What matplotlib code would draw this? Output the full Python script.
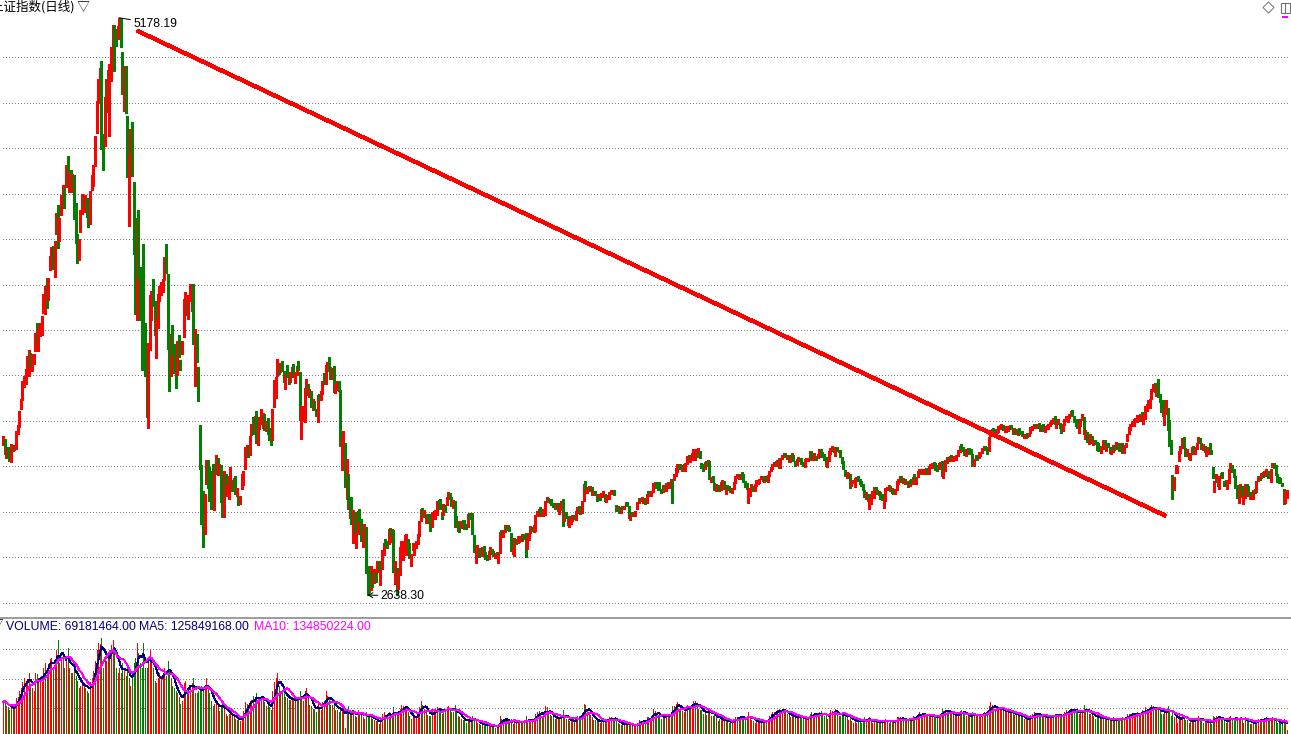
import numpy as np
import pandas as pd
import matplotlib
matplotlib.use("Agg")
import matplotlib.pyplot as plt
from matplotlib.patches import Polygon, Rectangle

# ---------------- data: Shanghai Composite daily bars (2015-03-02 .. 2018-06-01) ----------------
hi15 = [3336,3324,3286,3288,3263,3303,3297,3300,3359,3387,3449,3503,3578,3600,3632,3688,3715,3703,3701,3697,3790,3835,
        3818,3835,3864,3961,4000,4032,4035,4129,4169,4176,4195,4318,4356,4297,4400,4444,4431,4529,4572,4499,4507,
        4489,4488,4365,4225,4207,4333,4402,4391,4397,4387,4308,4418,4485,4530,4658,4814,4911,4958,4986,4669,
        4829,4911,4947,4973,5051,5147,5147,5131,5144,5178.19,5176,5029,4968,4966,4744,4577,4691,4720,4456,4297,4287,
        4334,4080,3975,4184,3836,3627,3748,3959,3976,4030,3930,3851,3962,4000,4017,4028,4125,4184,4051,3757,3789,3828,3742,
        3675,3757,3782,3674,3756,3943,3970,3941,3957,4006,3994,4006,3811,3789,3640,3388,3211,3096,3085,3233,3231,
        3201,3183,3217,3174,3256,3243,3214,3211,3107,3182,3169,3123,3161,3203,3145,3152,3162,3110,3075,3073,
        3172,3184,3288,3300,3292,3338,3393,3421,3425,3449,3371,3422,3457,3440,3436,3402,3416,
        3373,3346,3459,3585,3597,3678,3655,3661,3666,3624,3610,3650,3617,3619,3640,3654,3618,3648,3668,3621,3470,
        3470,3548,3591,3568,3546,3534,3500,3494,3457,3520,3524,3535,3581,3615,3651,3662,3684,3640,3638,3645,3565,3579,3580]
lo15 = [3298,3260,3242,3240,3228,3223,3274,3276,3281,3345,3377,3455,3496,3555,3567,3615,3600,3643,3625,3654,3710,3734,
        3712,3778,3781,3879,3874,3900,3938,4068,4080,4075,4038,4226,4165,4198,4312,4370,4340,4432,4432,4410,4437,
        4410,4293,4189,4099,4111,4237,4317,4346,4325,4303,4257,4273,4419,4438,4527,4671,4804,4863,4600,4510,
        4615,4797,4762,4656,4898,5031,4942,5056,5083,5099,5048,4842,4767,4758,4476,4264,4552,4483,4139,3875,3848,
        4033,3847,3629,3653,3602,3421,3373,3717,3847,3912,3781,3682,3815,3932,3958,3970,4023,4056,3720,3537,3602,3701,3615,
        3549,3608,3686,3629,3701,3772,3891,3872,3855,3933,3889,3743,3558,3663,3491,3191,2952,2851,2906,3126,3110,
        3053,3019,3066,3011,3170,3165,3168,3049,2983,2982,3072,3073,3063,3151,3096,3106,3084,3072,3033,3039,
        3104,3124,3194,3261,3247,3254,3344,3349,3360,3306,3300,3370,3392,3373,3363,3360,3349,
        3321,3298,3320,3467,3507,3601,3612,3621,3623,3577,3544,3597,3567,3574,3599,3600,3572,3607,3628,3410,3327,
        3402,3398,3518,3517,3509,3467,3454,3451,3424,3400,3495,3496,3525,3566,3567,3628,3626,3590,3590,3533,3527,3541,3538]
col15 = ("rgrggrg" "rrrrrrrrrr" "grrrg"
         "rrrrrgrrrgrrgrrrgrgrg"
         "rgggrrrgrgg" "rrrrrrr" "gg"
         "rrgrrrggrrggrggrrgggr"
         "ggggggrrrggrrrrrrgggrgg"
         "grggrrrgrrrgrgggggrrg"
         "gggrrgrggrgrrrgrgrgr"
         "rrrrgrrgrgrrrrgrg"
         "ggrrrrgrggrggrrgrrggr"
         "rrrgrgrggrgrrgrrggrgrrg")
vol15 = [290,310,260,250,230,270,250,240,320,330,380,400,450,480,430,470,520,430,400,380,520,510,
         480,460,450,560,600,560,590,630,640,560,600,700,780,600,650,680,560,640,720,560,520,
         520,600,500,460,400,420,470,420,400,380,360,450,480,540,620,700,760,750,800,560,
         640,620,660,700,740,780,700,560,520,560,520,600,560,500,560,480,420,500,600,640,760,
         680,600,560,760,560,560,620,700,620,560,460,440,480,520,500,500,560,500,620,540,480,420,400,
         380,360,330,280,300,440,460,400,380,400,440,480,360,360,380,400,420,380,420,480,400,
         360,300,260,280,300,260,220,260,280,260,200,180,200,210,180,170,160,150,150,140,
         180,220,290,280,260,300,310,340,300,360,300,330,340,320,290,260,270,
         250,230,380,450,480,520,420,380,370,360,330,320,310,310,330,310,300,300,330,380,330,
         300,380,400,320,270,260,240,240,210,300,240,230,290,300,380,340,320,270,270,300,230,230,210]

hi16 = [3539,3328,3362,3309,3236,3172,3042,3069,3011,3005,2917,3009,3019,2974,2927,2952,2938,2768,2737,2764,
        2741,2751,2740,2788,2787,2747,2837,2868,2886,2875,2928,2934,2929,2926,2789,2759,
        2744,2850,2874,2876,2901,2905,2883,2867,2820,2869,2865,2877,2905,2962,3019,3021,3013,2995,2982,2997,2964,3002,3010,
        3012,3054,3055,3062,3002,3039,3033,3069,3090,3089,3069,3056,3052,2987,2964,2960,2966,2970,2968,2952,
        2993,2998,3000,2998,2904,2847,2860,2838,2846,2851,2853,2829,2816,2830,2849,2842,2831,2824,2829,2824,2917,
        2926,2926,2945,2945,2946,2939,2910,2846,2891,2887,2896,2891,2899,2906,2908,2911,2896,2913,2941,2939,
        2945,2989,3007,3018,3025,3019,3016,3050,3071,3064,3060,3059,3045,3040,3042,3043,3026,3051,3059,3000,3003,
        2985,2975,2984,2990,2992,3006,3026,3030,3020,3051,3128,3140,3115,3117,3117,3112,3095,3094,3083,3083,3073,3087,3095,
        3085,3070,3079,3091,3101,3100,3101,3036,3031,3025,3027,3031,3029,3049,3048,3029,2998,3002,3003,3006,
        3048,3067,3065,3070,3066,3067,3085,3097,3092,3097,3131,3136,3135,3118,3134,3105,
        3124,3118,3132,3137,3134,3149,3151,3173,3198,3213,3212,3213,3211,3215,3219,3249,3256,3245,3262,3282,3283,3271,
        3286,3270,3219,3213,3223,3230,3233,3230,3158,3163,3130,3126,3124,3118,3137,3144,3139,3123,3124,3117,3105,3109]
lo16 = [3295,3189,3288,3115,3059,3016,2979,2949,2867,2898,2845,2906,2962,2878,2851,2915,2737,2638.30,2653,2662,
        2672,2690,2695,2739,2755,2682,2751,2816,2858,2845,2863,2897,2871,2741,2689,2639,
        2667,2727,2831,2793,2857,2815,2843,2801,2765,2835,2815,2846,2861,2898,2965,2987,2982,2955,2954,2957,2919,2936,2991,
        2972,2989,3023,3016,2971,2991,3003,3036,3063,3066,3032,3023,2939,2947,2918,2915,2932,2949,2930,2930,
        2938,2973,2982,2907,2827,2781,2825,2804,2818,2809,2830,2795,2791,2797,2820,2819,2811,2803,2810,2781,2822,
        2905,2893,2916,2925,2929,2919,2832,2820,2812,2864,2866,2870,2874,2876,2884,2807,2841,2882,2913,2921,
        2917,2918,2984,2988,3000,2985,2988,2990,3047,3046,3042,3034,3025,3019,3016,3008,2996,3012,2942,2966,2976,
        2948,2936,2950,2965,2972,2968,2998,3012,2993,3000,3054,3102,3086,3096,3097,3079,3077,3078,3051,3064,3058,3070,3071,
        3054,3046,3062,3060,3085,3083,3078,3009,3011,2998,2999,3016,3015,3031,3030,2979,2969,2986,2985,2988,
        3019,3043,3051,3051,3044,3040,3042,3077,3074,3074,3091,3117,3111,3102,3103,3086,
        3090,3100,3094,3112,3110,3129,3044,3143,3162,3178,3194,3193,3186,3189,3186,3217,3232,3222,3233,3257,3233,3245,
        3250,3241,3197,3184,3194,3206,3208,3150,3136,3137,3101,3098,3110,3095,3102,3130,3106,3084,3109,3099,3090,3086]
col16 = ("grrgrgrgrgrrggrrgggr"
         "grgrgrrrggrgrgrg"
         "rrrrrr" "gg" "rrrrrrr" "grgrggrr"
         "rrgggrgrrggrggrgrggg"
         "rgrggrrggrgggrrggrgrr"
         "grrgrggrrgrrgrggrrrg"
         "rrrrggrrrgrgggrgrrgrg"
         "grrrgrrggrrgrgrgrggrgrr"
         "grrrrrggrgrgrrggrgrr"
         "rrgrrgrgrrrrgggg"
         "rgrgrrgrrrggrgrrgrrrrg"
         "rgggrgrgrggrggrrgrgggr")
vol16 = [240,250,240,90,230,260,200,200,220,180,170,230,200,200,170,160,210,190,170,180,
         160,150,140,150,120,150,200,210,190,160,210,200,180,250,200,190,
         190,240,270,260,250,250,210,180,160,180,170,170,210,250,300,270,240,230,190,180,180,220,230,
         220,250,240,230,200,230,230,250,260,230,210,210,270,220,180,170,160,150,150,130,
         150,150,140,180,160,140,130,120,110,120,110,110,100,110,110,100,100,90,100,100,180,
         160,150,160,140,140,130,160,120,150,130,130,130,130,140,130,180,140,140,150,140,
         150,200,210,220,200,180,190,260,250,200,190,180,170,160,170,160,160,190,230,170,160,
         160,140,140,140,140,160,180,180,170,200,280,270,220,200,190,170,150,150,140,140,130,140,150,
         150,140,150,170,170,160,150,160,130,120,110,110,110,130,120,130,110,100,100,100,
         130,150,140,140,130,140,170,170,160,170,240,220,200,180,180,160,
         190,170,200,190,180,200,260,260,280,290,240,230,220,210,250,270,260,250,260,300,300,260,
         240,230,230,200,210,190,230,240,180,180,210,170,140,160,170,150,140,150,140,130,130,130]

hi17 = [3136,3160,3172,3172,3173,3179,3172,3142,3132,3108,3110,3127,3117,3126,3145,3146,3150,3163,
        3163,3158,3160,3167,3185,3202,3217,3225,3230,3232,3241,3240,3256,3262,3265,3255,3253,3242,
        3262,3254,3228,3236,3246,3243,3240,3222,3238,3242,3243,3270,3271,3251,3262,3250,3258,3279,3282,3269,3261,3244,3229,
        3270,3285,3295,3290,3289,3288,3278,3276,3245,3226,3188,3180,3177,3169,3138,3146,3154,3158,
        3160,3150,3138,3125,3101,3090,3081,3064,3083,3096,3113,3114,3099,3095,3093,3085,3067,3110,3113,3124,
        3119,3109,3106,3104,3141,3151,3163,3160,3155,3151,3141,3140,3145,3147,3157,3172,3158,3186,3192,3188,3191,3193,
        3197,3198,3208,3213,3220,3225,3220,3212,3221,3224,3227,3188,3231,3245,3243,3252,3255,3252,3251,3256,3276,
        3293,3305,3290,3280,3280,3286,3284,3283,3258,3238,3253,3253,3269,3269,3287,3293,3292,3289,3332,3366,3371,3374,3369,
        3368,3381,3387,3391,3388,3375,3380,3380,3385,3388,3371,3372,3368,3367,3372,3362,3358,3347,3347,3350,3353,
        3377,3384,3391,3393,3391,3397,3385,3386,3389,3380,3386,3390,3398,3410,3419,3428,3395,
        3412,3396,3386,3389,3415,3425,3428,3436,3449,3451,3425,3410,3412,3395,3411,3433,3422,3366,3356,3334,3346,3338,
        3322,3322,3310,3307,3293,3290,3322,3320,3305,3307,3289,3276,3298,3294,3311,3301,3306,3306,3308,3297,3308]
lo17 = [3106,3130,3153,3150,3147,3159,3134,3114,3105,3044,3076,3102,3096,3095,3120,3129,3131,3147,
        3138,3134,3141,3134,3160,3182,3194,3208,3210,3205,3199,3196,3235,3246,3244,3236,3224,3225,
        3240,3229,3204,3212,3230,3229,3214,3207,3201,3228,3226,3241,3234,3232,3245,3234,3240,3246,3260,3247,3232,3204,3203,
        3230,3261,3272,3267,3249,3271,3266,3245,3221,3192,3161,3152,3161,3111,3119,3132,3112,3142,
        3141,3127,3118,3100,3068,3063,3051,3016,3041,3075,3065,3098,3082,3080,3061,3057,3022,3054,3099,3102,
        3096,3086,3084,3084,3101,3126,3140,3137,3131,3129,3127,3113,3118,3132,3129,3145,3128,3158,3170,3171,3172,3171,
        3173,3177,3170,3198,3198,3206,3188,3185,3193,3205,3163,3153,3184,3220,3228,3229,3240,3226,3235,3233,3249,
        3269,3282,3270,3253,3252,3270,3259,3257,3204,3204,3234,3232,3242,3248,3262,3276,3275,3261,3270,3337,3351,3355,3347,
        3351,3355,3369,3369,3363,3354,3357,3361,3367,3368,3347,3351,3348,3341,3352,3346,3338,3331,3331,3335,3338,
        3352,3365,3372,3380,3375,3375,3360,3362,3365,3356,3370,3367,3381,3389,3395,3390,3373,
        3389,3374,3353,3362,3385,3406,3400,3417,3426,3424,3398,3381,3374,3353,3382,3410,3348,3327,3312,3301,3315,3306,
        3298,3302,3278,3274,3270,3264,3282,3280,3272,3289,3263,3259,3268,3278,3283,3283,3274,3273,3264,3263,3288]
col17 = ("rrrgrggggrrrgrrrrr"
         "grgrrrrrgrgrrrgrgr"
         "rggrrgggrrrrgrrgrrggggr"
         "rrrgrgrggggrrgrrrr"
         "gggggrgrrrrggrggrrrr"
         "grgrrrrgrgrgrgrgrrrgrr"
         "rgrrrgggrrgrrrgrgrrrr"
         "rgggrrgggrrgrrrrggrrrgg"
         "rrrrgrrrrggrgrgggrrgr"
         "rrrgrggrgrrrrrrgr"
         "rggrrrrrrggggrrrgrgrrg"
         "rggggrrgrggrrgrggrgrr")
vol17 = [160,170,170,170,180,170,170,150,160,210,180,150,140,130,140,140,130,130,
         130,140,150,160,180,200,210,210,200,230,240,220,230,230,210,200,190,170,
         190,180,170,170,180,170,170,160,160,160,150,200,210,190,200,190,180,210,220,190,180,190,160,
         200,230,220,200,240,200,180,180,190,190,200,170,150,200,140,130,150,130,
         150,140,130,150,170,150,140,170,140,130,150,140,130,130,140,130,150,160,140,130,
         150,140,130,130,170,170,170,150,160,150,140,140,160,150,180,170,180,200,210,190,190,190,
         190,180,190,180,170,180,180,170,190,190,240,220,230,230,200,210,200,190,180,180,200,
         220,230,210,200,180,180,180,180,210,180,180,180,190,190,200,210,200,200,260,290,270,240,230,
         240,240,240,230,220,210,220,220,210,210,200,190,190,190,190,180,170,160,160,150,150,
         190,200,210,200,190,190,190,180,180,170,170,170,170,180,190,200,180,
         190,180,180,180,210,230,220,220,240,240,220,210,220,200,210,210,270,230,220,200,200,200,
         180,160,170,180,170,160,170,160,150,150,150,150,170,150,150,150,160,160,170,160,150]

hi18 = [3349,3379,3392,3402,3412,3417,3430,3427,3435,3442,3437,3468,3480,3497,3503,3547,3565,3570,3562,3587,3523,3495,
        3495,3463,3496,3463,3410,3319,3168,3158,3210,3206,3270,3293,3329,3335,3287,
        3283,3265,3262,3290,3296,3289,3308,3334,3328,3306,3303,3296,3280,3291,3307,3276,3202,3138,3171,3153,3161,3175,
        3180,3141,3146,3145,3191,3220,3210,3193,3164,3122,3099,3127,3118,3072,3129,3129,3118,3086,
        3091,3101,3104,3138,3162,3163,3175,3181,3182,3192,3183,3172,3193,3219,3219,3209,3171,3157,3153,3131,3105,3098,
        3102]
lo18 = [3314,3345,3365,3380,3384,3403,3398,3405,3424,3402,3390,3414,3450,3466,3461,3503,3534,3532,3514,3510,3488,3442,
        3424,3388,3435,3363,3295,3258,3062,3101,3174,3176,3227,3262,3285,3290,3252,
        3250,3238,3233,3260,3269,3260,3279,3311,3308,3282,3275,3268,3252,3257,3276,3259,3152,3091,3134,3118,3104,3154,
        3154,3117,3123,3104,3133,3190,3178,3157,3108,3066,3042,3091,3068,3041,3066,3112,3073,3062,
        3073,3063,3088,3091,3138,3143,3152,3158,3166,3160,3153,3153,3137,3200,3198,3168,3137,3131,3134,3118,3041,3043,
        3066]
col18 = ("rrrrrrrrrgrrrrrrrgrggg"
         "grrggggrrrrrrgg"
         "rgrrgrrrggrgrrgggrrgrr"
         "gggrrrggggrrgrrggr"
         "grgrrgrgrrggrrgggggggr"
         "r")
vol18 = [200,200,200,190,200,190,210,190,190,230,210,250,230,230,250,270,260,230,230,250,230,200,
         200,210,220,260,230,180,220,170,170,130,160,170,200,180,150,
         150,130,140,160,150,150,160,180,160,140,130,140,140,140,130,120,180,170,180,170,180,150,
         150,140,130,150,170,180,160,140,160,170,160,170,150,130,170,150,140,120,
         120,130,120,150,160,150,160,150,150,170,160,150,160,170,150,140,130,129.3,130,120,160,150,
         69.181464]

header_text = "上证指数(日线) ▽"
vol_label = ["VOLUME: 69181464.00", "MA5: 125849168.00", "MA10: 134850224.00"]
price_grid = [2600, 2800, 3000, 3200, 3400, 3600, 3800, 4000, 4200, 4400, 4600, 4800, 5000]
vol_grid = [235, 470, 705]          # millions
trend_x = [83, 721]                 # bar index
trend_y = [5122, 2986]              # price

# ---------------- assemble ----------------
high = np.array(hi15 + hi16 + hi17 + hi18, dtype=float)
low = np.array(lo15 + lo16 + lo17 + lo18, dtype=float)
cols = col15 + col16 + col17 + col18
vol = np.array(vol15 + vol16 + vol17 + vol18, dtype=float)
n = min(len(high), len(low), len(cols), len(vol))
high, low, vol = high[:n], low[:n], vol[:n]
cols = cols[:n]
x = np.arange(n)
RED, GREEN = "#FF0000", "#008000"
colors = [RED if c == "r" else GREEN for c in cols]
ma5 = pd.Series(vol).rolling(5, min_periods=1).mean().values
ma10 = pd.Series(vol).rolling(10, min_periods=1).mean().values

W, H = 1291, 734
fig = plt.figure(figsize=(W / 100, H / 100), dpi=100)
fig.patch.set_facecolor("white")

def fy(px):
    return 1 - px / H

STEP = 1.613                 # pixels per bar
X0 = -3 / STEP
X1 = (W - 3) / STEP
PX = 72 / 100                # one pixel in points
GRID = "#808080"
# dotted grid: one pixel every 3 pixels along the row
dot_x = (np.arange(3, W - 2, 3) - 3) / STEP

# price panel
ax = fig.add_axes([0, fy(617), 1, 617 / H])
ax.set_xlim(X0, X1)
ax.set_ylim(2541.7, 5256.5)
ax.axis("off")
for g in price_grid:
    ax.plot(dot_x, np.full_like(dot_x, g), ",", color=GRID, zorder=1)
ax.vlines(x, low, high, colors=colors, lw=PX * 1.4, antialiased=False, zorder=3)
ax.plot(trend_x, trend_y, color=RED, lw=2.3, antialiased=False, solid_capstyle="butt", zorder=4)

i_pk = int(np.argmax(high))
ax.annotate(f"{high[i_pk]:.2f}", xy=(i_pk, high[i_pk]), xytext=(14, -6), textcoords="offset pixels",
            ha="left", va="center", fontsize=8.8, family=["Liberation Sans", "DejaVu Sans"], color="black",
            arrowprops=dict(arrowstyle="-", color="black", lw=PX, shrinkA=0, shrinkB=0), zorder=5)
i_lo = int(np.argmin(low))
ax.annotate(f"{low[i_lo]:.2f}", xy=(i_lo, low[i_lo]), xytext=(13, -1), textcoords="offset pixels",
            ha="left", va="center", fontsize=8.8, family=["Liberation Sans", "DejaVu Sans"], color="black",
            arrowprops=dict(arrowstyle="->,head_length=0.35,head_width=0.2", color="black", lw=PX,
                            shrinkA=0, shrinkB=0), zorder=5)

# volume panel (bottom extends slightly below figure edge)
ax2 = fig.add_axes([0, fy(739), 1, 119 / H])
ax2.set_xlim(X0, X1)
ax2.set_ylim(0, 940)
ax2.axis("off")
for g in vol_grid:
    ax2.plot(dot_x, np.full_like(dot_x, g), ",", color=GRID, zorder=1)
ax2.vlines(x, 0, vol, colors=colors, lw=PX, antialiased=False, zorder=3)
ax2.plot(x, ma5, color="#000080", lw=PX, antialiased=False, zorder=4)
ax2.plot(x, ma10, color="#FF00FF", lw=PX, antialiased=False, zorder=4)

# overlay in pixel coordinates
ov = fig.add_axes([0, 0, 1, 1], zorder=10)
ov.set_xlim(0, W)
ov.set_ylim(H, 0)
ov.axis("off")
ov.patch.set_alpha(0)
ov.plot([0, W], [617.5, 617.5], color="#808080", lw=1.1, solid_capstyle="butt")
cjk = ["Noto Sans CJK SC", "DejaVu Sans"]
lat = ["Liberation Sans", "DejaVu Sans"]
ov.text(-9, 7, header_text, fontsize=9, family=cjk, ha="left", va="center", color="black")
ov.text(-9, 626, "▽", fontsize=9, family=cjk, ha="left", va="center", color="black")
ov.text(6, 626.5, vol_label[0], fontsize=8.8, family=lat, ha="left", va="center", color="#000080")
ov.text(139, 626.5, vol_label[1], fontsize=8.8, family=lat, ha="left", va="center", color="#000080")
ov.text(254, 626.5, vol_label[2], fontsize=8.8, family=lat, ha="left", va="center", color="#FF00FF")
# top-right icons
ov.add_patch(Polygon([[1263, 7.5], [1268.5, 2], [1274, 7.5], [1268.5, 13]], closed=True,
                     fill=False, edgecolor="#808080", lw=0.8))
ov.add_patch(Rectangle((1280.5, 2.5), 9, 10.5, fill=False, edgecolor="#707070", lw=0.8))
ov.plot([1285, 1285], [2.5, 13], color="#707070", lw=0.8)
ov.add_patch(Rectangle((1282, 16), 6, 2, facecolor="#FF00FF", edgecolor="none"))

fig.savefig("out.png", dpi=100, facecolor="white")
